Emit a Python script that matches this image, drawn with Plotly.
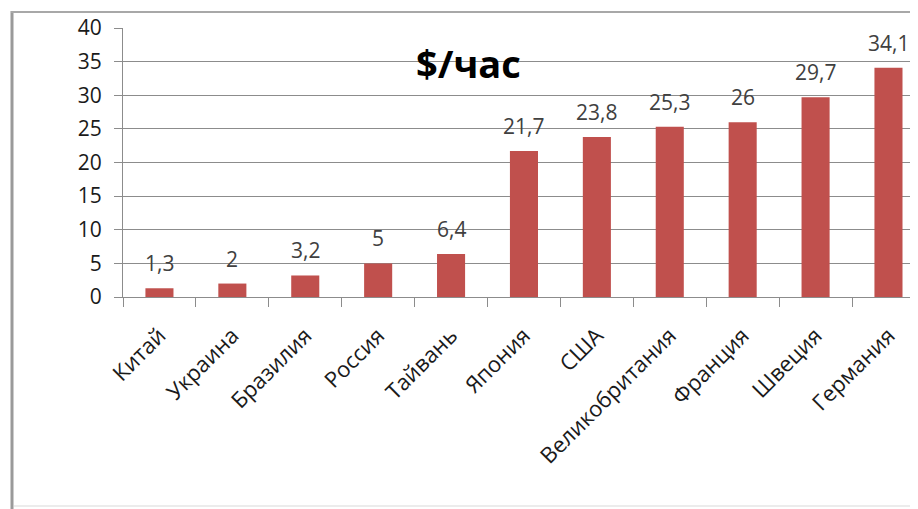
import plotly.graph_objects as go

countries = ["Китай", "Украина", "Бразилия", "Россия", "Тайвань", "Япония",
             "США", "Великобритания", "Франция", "Швеция", "Германия"]
wages = [1.3, 2, 3.2, 5, 6.4, 21.7, 23.8, 25.3, 26, 29.7, 34.1]
labels = [f"{v:g}".replace(".", ",") for v in wages]

FONT = "Open Sans"
OFF = 8  # page body margin
W, H = 918 - OFF, 509 - OFF
L, T = 123 - OFF, 28 - OFF
PB = 297 - OFF  # plot bottom
B = H - PB

fig = go.Figure()
fig.add_trace(go.Bar(x=countries, y=wages, marker_color="#C0504D",
                     marker_line_width=0, hoverinfo="x+y"))

annotations = [dict(x=c, y=v, text=t, showarrow=False, xref="x", yref="y",
                    yanchor="bottom", yshift=9,
                    font=dict(family=FONT, size=21, color="#404040"))
               for c, v, t in zip(countries, wages, labels)]

pw = W - L
ph = PB - T


def px(x):
    return (x - OFF - L) / pw


def py(y):
    return (PB - (y - OFF)) / ph


annotations.append(dict(text="<b>$/час</b>", x=px(468), y=py(63),
                        xref="paper", yref="paper", showarrow=False,
                        xanchor="center", yanchor="middle",
                        font=dict(family=FONT, size=38, color="#000000")))

shapes = [
    dict(type="line", xref="paper", yref="paper",
         x0=px(12), x1=px(12), y0=py(11), y1=py(520),
         line=dict(color="#9a9a9a", width=3)),
    dict(type="line", xref="paper", yref="paper",
         x0=px(11), x1=1.02, y0=py(12), y1=py(12),
         line=dict(color="#a8a8a8", width=2)),
    dict(type="line", xref="paper", yref="paper",
         x0=px(14), x1=1.02, y0=py(506), y1=py(506),
         line=dict(color="#ececec", width=2)),
]

fig.update_layout(
    width=W, height=H,
    margin=dict(l=L, r=0, t=T, b=B, autoexpand=False),
    paper_bgcolor="white", plot_bgcolor="white",
    showlegend=False, bargap=0.615,
    annotations=annotations, shapes=shapes,
    xaxis=dict(range=[-0.5, 10.405], tickangle=-45, tickson="boundaries",
               ticks="outside", ticklen=9, tickcolor="#8c8c8c",
               showline=True, linecolor="#8c8c8c", linewidth=1,
               showgrid=False, fixedrange=True, ticklabelstandoff=16,
               tickfont=dict(family=FONT, size=22, color="#1a1a1a")),
    yaxis=dict(range=[0, 40], dtick=5, ticks="outside", ticklen=8,
               tickcolor="#8c8c8c", showline=True, linecolor="#8c8c8c",
               linewidth=1, gridcolor="#8c8c8c", gridwidth=1, zeroline=False,
               ticklabelstandoff=8, fixedrange=True,
               tickfont=dict(family=FONT, size=21, color="#1a1a1a")),
)

fig.write_html("out.html")
